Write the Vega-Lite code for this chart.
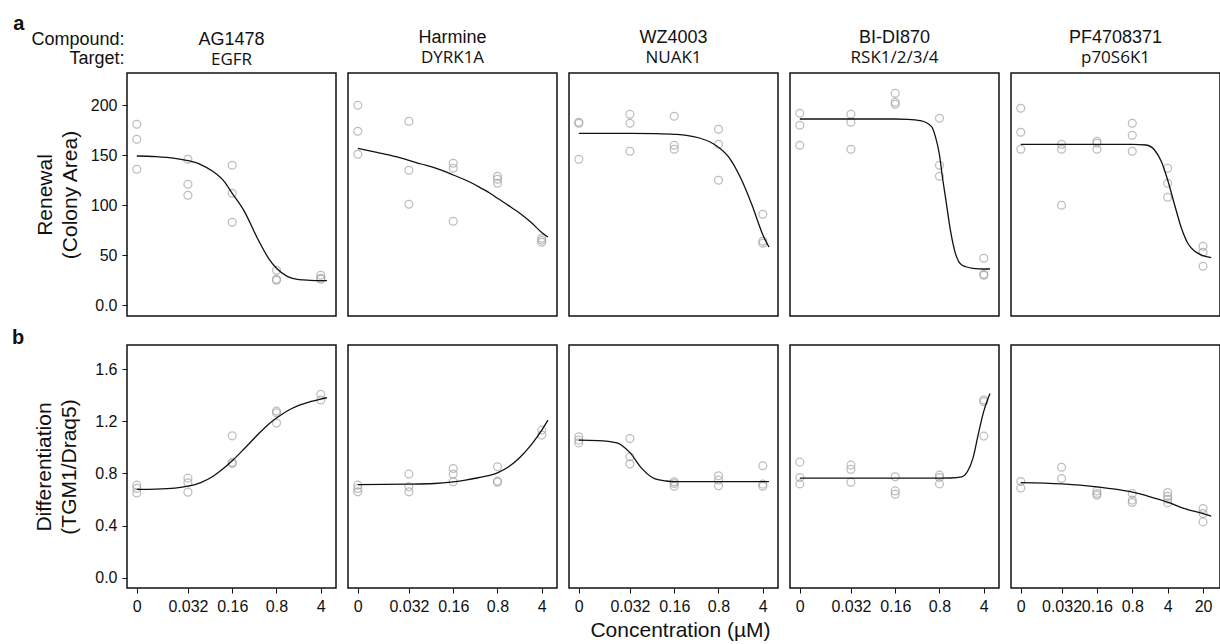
{
  "$schema": "https://vega.github.io/schema/vega-lite/v6.json",
  "background": "white",
  "padding": {"left": 12, "top": 14, "right": 0, "bottom": 0},
  "config": {
    "font": "Liberation Sans",
    "view": {"stroke": "#111111", "strokeWidth": 1.5},
    "point": {"shape": "circle", "filled": false, "color": "#a2a2a2", "size": 62, "strokeWidth": 1.25},
    "line": {"color": "#111111", "strokeWidth": 1.3, "interpolate": "monotone"},
    "axis": {"grid": false, "domain": false, "tickColor": "#111111", "tickSize": 5, "tickWidth": 1, "labelFontSize": 16, "labelColor": "#111111", "labelPadding": 5, "titleFontSize": 21, "titleFontWeight": "normal", "titleColor": "#111111", "labelFlush": false, "labelOverlap": false},
    "title": {"font": "Liberation Sans", "fontSize": 18, "fontWeight": "normal", "color": "#111111", "subtitleFont": "Open Sans", "subtitleFontSize": 17, "subtitleColor": "#111111", "subtitlePadding": 3, "offset": 7},
    "concat": {"spacing": 10}
  },
  "datasets": {
    "points": [
      {"compound": "AG1478", "assay": "renewal", "conc": 0.005, "value": 181},
      {"compound": "AG1478", "assay": "renewal", "conc": 0.005, "value": 166},
      {"compound": "AG1478", "assay": "renewal", "conc": 0.005, "value": 136},
      {"compound": "AG1478", "assay": "renewal", "conc": 0.032, "value": 146},
      {"compound": "AG1478", "assay": "renewal", "conc": 0.032, "value": 121},
      {"compound": "AG1478", "assay": "renewal", "conc": 0.032, "value": 110},
      {"compound": "AG1478", "assay": "renewal", "conc": 0.16, "value": 140},
      {"compound": "AG1478", "assay": "renewal", "conc": 0.16, "value": 112},
      {"compound": "AG1478", "assay": "renewal", "conc": 0.16, "value": 83},
      {"compound": "AG1478", "assay": "renewal", "conc": 0.8, "value": 35},
      {"compound": "AG1478", "assay": "renewal", "conc": 0.8, "value": 26},
      {"compound": "AG1478", "assay": "renewal", "conc": 0.8, "value": 25},
      {"compound": "AG1478", "assay": "renewal", "conc": 4, "value": 30},
      {"compound": "AG1478", "assay": "renewal", "conc": 4, "value": 27},
      {"compound": "AG1478", "assay": "renewal", "conc": 4, "value": 26},
      {"compound": "Harmine", "assay": "renewal", "conc": 0.005, "value": 200},
      {"compound": "Harmine", "assay": "renewal", "conc": 0.005, "value": 174},
      {"compound": "Harmine", "assay": "renewal", "conc": 0.005, "value": 151},
      {"compound": "Harmine", "assay": "renewal", "conc": 0.032, "value": 184},
      {"compound": "Harmine", "assay": "renewal", "conc": 0.032, "value": 135},
      {"compound": "Harmine", "assay": "renewal", "conc": 0.032, "value": 101},
      {"compound": "Harmine", "assay": "renewal", "conc": 0.16, "value": 142},
      {"compound": "Harmine", "assay": "renewal", "conc": 0.16, "value": 137},
      {"compound": "Harmine", "assay": "renewal", "conc": 0.16, "value": 84},
      {"compound": "Harmine", "assay": "renewal", "conc": 0.8, "value": 129},
      {"compound": "Harmine", "assay": "renewal", "conc": 0.8, "value": 126},
      {"compound": "Harmine", "assay": "renewal", "conc": 0.8, "value": 122},
      {"compound": "Harmine", "assay": "renewal", "conc": 4, "value": 67},
      {"compound": "Harmine", "assay": "renewal", "conc": 4, "value": 65},
      {"compound": "Harmine", "assay": "renewal", "conc": 4, "value": 63},
      {"compound": "WZ4003", "assay": "renewal", "conc": 0.005, "value": 183},
      {"compound": "WZ4003", "assay": "renewal", "conc": 0.005, "value": 182},
      {"compound": "WZ4003", "assay": "renewal", "conc": 0.005, "value": 146},
      {"compound": "WZ4003", "assay": "renewal", "conc": 0.032, "value": 191},
      {"compound": "WZ4003", "assay": "renewal", "conc": 0.032, "value": 182},
      {"compound": "WZ4003", "assay": "renewal", "conc": 0.032, "value": 154},
      {"compound": "WZ4003", "assay": "renewal", "conc": 0.16, "value": 189},
      {"compound": "WZ4003", "assay": "renewal", "conc": 0.16, "value": 160},
      {"compound": "WZ4003", "assay": "renewal", "conc": 0.16, "value": 156},
      {"compound": "WZ4003", "assay": "renewal", "conc": 0.8, "value": 176},
      {"compound": "WZ4003", "assay": "renewal", "conc": 0.8, "value": 161},
      {"compound": "WZ4003", "assay": "renewal", "conc": 0.8, "value": 125},
      {"compound": "WZ4003", "assay": "renewal", "conc": 4, "value": 91},
      {"compound": "WZ4003", "assay": "renewal", "conc": 4, "value": 64},
      {"compound": "WZ4003", "assay": "renewal", "conc": 4, "value": 62},
      {"compound": "BI-DI870", "assay": "renewal", "conc": 0.005, "value": 192},
      {"compound": "BI-DI870", "assay": "renewal", "conc": 0.005, "value": 180},
      {"compound": "BI-DI870", "assay": "renewal", "conc": 0.005, "value": 160},
      {"compound": "BI-DI870", "assay": "renewal", "conc": 0.032, "value": 191},
      {"compound": "BI-DI870", "assay": "renewal", "conc": 0.032, "value": 183},
      {"compound": "BI-DI870", "assay": "renewal", "conc": 0.032, "value": 156},
      {"compound": "BI-DI870", "assay": "renewal", "conc": 0.16, "value": 212},
      {"compound": "BI-DI870", "assay": "renewal", "conc": 0.16, "value": 203},
      {"compound": "BI-DI870", "assay": "renewal", "conc": 0.16, "value": 201},
      {"compound": "BI-DI870", "assay": "renewal", "conc": 0.8, "value": 187},
      {"compound": "BI-DI870", "assay": "renewal", "conc": 0.8, "value": 140},
      {"compound": "BI-DI870", "assay": "renewal", "conc": 0.8, "value": 129},
      {"compound": "BI-DI870", "assay": "renewal", "conc": 4, "value": 47},
      {"compound": "BI-DI870", "assay": "renewal", "conc": 4, "value": 31},
      {"compound": "BI-DI870", "assay": "renewal", "conc": 4, "value": 30},
      {"compound": "PF4708371", "assay": "renewal", "conc": 0.005, "value": 197},
      {"compound": "PF4708371", "assay": "renewal", "conc": 0.005, "value": 173},
      {"compound": "PF4708371", "assay": "renewal", "conc": 0.005, "value": 156},
      {"compound": "PF4708371", "assay": "renewal", "conc": 0.032, "value": 161},
      {"compound": "PF4708371", "assay": "renewal", "conc": 0.032, "value": 156},
      {"compound": "PF4708371", "assay": "renewal", "conc": 0.032, "value": 100},
      {"compound": "PF4708371", "assay": "renewal", "conc": 0.16, "value": 164},
      {"compound": "PF4708371", "assay": "renewal", "conc": 0.16, "value": 162},
      {"compound": "PF4708371", "assay": "renewal", "conc": 0.16, "value": 156},
      {"compound": "PF4708371", "assay": "renewal", "conc": 0.8, "value": 182},
      {"compound": "PF4708371", "assay": "renewal", "conc": 0.8, "value": 170},
      {"compound": "PF4708371", "assay": "renewal", "conc": 0.8, "value": 154},
      {"compound": "PF4708371", "assay": "renewal", "conc": 4, "value": 137},
      {"compound": "PF4708371", "assay": "renewal", "conc": 4, "value": 122},
      {"compound": "PF4708371", "assay": "renewal", "conc": 4, "value": 108},
      {"compound": "PF4708371", "assay": "renewal", "conc": 20, "value": 59},
      {"compound": "PF4708371", "assay": "renewal", "conc": 20, "value": 53},
      {"compound": "PF4708371", "assay": "renewal", "conc": 20, "value": 39},
      {"compound": "AG1478", "assay": "differentiation", "conc": 0.005, "value": 0.71},
      {"compound": "AG1478", "assay": "differentiation", "conc": 0.005, "value": 0.685},
      {"compound": "AG1478", "assay": "differentiation", "conc": 0.005, "value": 0.65},
      {"compound": "AG1478", "assay": "differentiation", "conc": 0.032, "value": 0.764},
      {"compound": "AG1478", "assay": "differentiation", "conc": 0.032, "value": 0.728},
      {"compound": "AG1478", "assay": "differentiation", "conc": 0.032, "value": 0.656},
      {"compound": "AG1478", "assay": "differentiation", "conc": 0.16, "value": 1.089},
      {"compound": "AG1478", "assay": "differentiation", "conc": 0.16, "value": 0.885},
      {"compound": "AG1478", "assay": "differentiation", "conc": 0.16, "value": 0.877},
      {"compound": "AG1478", "assay": "differentiation", "conc": 0.8, "value": 1.279},
      {"compound": "AG1478", "assay": "differentiation", "conc": 0.8, "value": 1.266},
      {"compound": "AG1478", "assay": "differentiation", "conc": 0.8, "value": 1.187},
      {"compound": "AG1478", "assay": "differentiation", "conc": 4, "value": 1.408},
      {"compound": "AG1478", "assay": "differentiation", "conc": 4, "value": 1.364},
      {"compound": "Harmine", "assay": "differentiation", "conc": 0.005, "value": 0.71},
      {"compound": "Harmine", "assay": "differentiation", "conc": 0.005, "value": 0.685},
      {"compound": "Harmine", "assay": "differentiation", "conc": 0.005, "value": 0.659},
      {"compound": "Harmine", "assay": "differentiation", "conc": 0.032, "value": 0.795},
      {"compound": "Harmine", "assay": "differentiation", "conc": 0.032, "value": 0.697},
      {"compound": "Harmine", "assay": "differentiation", "conc": 0.032, "value": 0.659},
      {"compound": "Harmine", "assay": "differentiation", "conc": 0.16, "value": 0.838},
      {"compound": "Harmine", "assay": "differentiation", "conc": 0.16, "value": 0.795},
      {"compound": "Harmine", "assay": "differentiation", "conc": 0.16, "value": 0.736},
      {"compound": "Harmine", "assay": "differentiation", "conc": 0.8, "value": 0.851},
      {"compound": "Harmine", "assay": "differentiation", "conc": 0.8, "value": 0.741},
      {"compound": "Harmine", "assay": "differentiation", "conc": 0.8, "value": 0.733},
      {"compound": "Harmine", "assay": "differentiation", "conc": 4, "value": 1.133},
      {"compound": "Harmine", "assay": "differentiation", "conc": 4, "value": 1.095},
      {"compound": "WZ4003", "assay": "differentiation", "conc": 0.005, "value": 1.082},
      {"compound": "WZ4003", "assay": "differentiation", "conc": 0.005, "value": 1.056},
      {"compound": "WZ4003", "assay": "differentiation", "conc": 0.005, "value": 1.035},
      {"compound": "WZ4003", "assay": "differentiation", "conc": 0.032, "value": 1.069},
      {"compound": "WZ4003", "assay": "differentiation", "conc": 0.032, "value": 0.928},
      {"compound": "WZ4003", "assay": "differentiation", "conc": 0.032, "value": 0.872},
      {"compound": "WZ4003", "assay": "differentiation", "conc": 0.16, "value": 0.736},
      {"compound": "WZ4003", "assay": "differentiation", "conc": 0.16, "value": 0.723},
      {"compound": "WZ4003", "assay": "differentiation", "conc": 0.16, "value": 0.702},
      {"compound": "WZ4003", "assay": "differentiation", "conc": 0.8, "value": 0.782},
      {"compound": "WZ4003", "assay": "differentiation", "conc": 0.8, "value": 0.749},
      {"compound": "WZ4003", "assay": "differentiation", "conc": 0.8, "value": 0.705},
      {"compound": "WZ4003", "assay": "differentiation", "conc": 4, "value": 0.859},
      {"compound": "WZ4003", "assay": "differentiation", "conc": 4, "value": 0.718},
      {"compound": "WZ4003", "assay": "differentiation", "conc": 4, "value": 0.702},
      {"compound": "BI-DI870", "assay": "differentiation", "conc": 0.005, "value": 0.887},
      {"compound": "BI-DI870", "assay": "differentiation", "conc": 0.005, "value": 0.769},
      {"compound": "BI-DI870", "assay": "differentiation", "conc": 0.005, "value": 0.72},
      {"compound": "BI-DI870", "assay": "differentiation", "conc": 0.032, "value": 0.864},
      {"compound": "BI-DI870", "assay": "differentiation", "conc": 0.032, "value": 0.831},
      {"compound": "BI-DI870", "assay": "differentiation", "conc": 0.032, "value": 0.733},
      {"compound": "BI-DI870", "assay": "differentiation", "conc": 0.16, "value": 0.774},
      {"compound": "BI-DI870", "assay": "differentiation", "conc": 0.16, "value": 0.666},
      {"compound": "BI-DI870", "assay": "differentiation", "conc": 0.16, "value": 0.641},
      {"compound": "BI-DI870", "assay": "differentiation", "conc": 0.8, "value": 0.787},
      {"compound": "BI-DI870", "assay": "differentiation", "conc": 0.8, "value": 0.769},
      {"compound": "BI-DI870", "assay": "differentiation", "conc": 0.8, "value": 0.72},
      {"compound": "BI-DI870", "assay": "differentiation", "conc": 4, "value": 1.364},
      {"compound": "BI-DI870", "assay": "differentiation", "conc": 4, "value": 1.351},
      {"compound": "BI-DI870", "assay": "differentiation", "conc": 4, "value": 1.087},
      {"compound": "PF4708371", "assay": "differentiation", "conc": 0.005, "value": 0.738},
      {"compound": "PF4708371", "assay": "differentiation", "conc": 0.005, "value": 0.689},
      {"compound": "PF4708371", "assay": "differentiation", "conc": 0.032, "value": 0.848},
      {"compound": "PF4708371", "assay": "differentiation", "conc": 0.032, "value": 0.761},
      {"compound": "PF4708371", "assay": "differentiation", "conc": 0.16, "value": 0.666},
      {"compound": "PF4708371", "assay": "differentiation", "conc": 0.16, "value": 0.646},
      {"compound": "PF4708371", "assay": "differentiation", "conc": 0.16, "value": 0.633},
      {"compound": "PF4708371", "assay": "differentiation", "conc": 0.8, "value": 0.646},
      {"compound": "PF4708371", "assay": "differentiation", "conc": 0.8, "value": 0.595},
      {"compound": "PF4708371", "assay": "differentiation", "conc": 0.8, "value": 0.577},
      {"compound": "PF4708371", "assay": "differentiation", "conc": 4, "value": 0.654},
      {"compound": "PF4708371", "assay": "differentiation", "conc": 4, "value": 0.625},
      {"compound": "PF4708371", "assay": "differentiation", "conc": 4, "value": 0.602},
      {"compound": "PF4708371", "assay": "differentiation", "conc": 4, "value": 0.574},
      {"compound": "PF4708371", "assay": "differentiation", "conc": 20, "value": 0.531},
      {"compound": "PF4708371", "assay": "differentiation", "conc": 20, "value": 0.492},
      {"compound": "PF4708371", "assay": "differentiation", "conc": 20, "value": 0.428}
    ],
    "fits": [
      {"compound": "AG1478", "assay": "renewal", "conc": 0.005, "value": 149.2},
      {"compound": "AG1478", "assay": "renewal", "conc": 0.01, "value": 148.6},
      {"compound": "AG1478", "assay": "renewal", "conc": 0.02, "value": 146.9},
      {"compound": "AG1478", "assay": "renewal", "conc": 0.032, "value": 144.6},
      {"compound": "AG1478", "assay": "renewal", "conc": 0.05, "value": 140.9},
      {"compound": "AG1478", "assay": "renewal", "conc": 0.08, "value": 133.6},
      {"compound": "AG1478", "assay": "renewal", "conc": 0.12, "value": 123.6},
      {"compound": "AG1478", "assay": "renewal", "conc": 0.16, "value": 111.9},
      {"compound": "AG1478", "assay": "renewal", "conc": 0.25, "value": 93.6},
      {"compound": "AG1478", "assay": "renewal", "conc": 0.4, "value": 66.9},
      {"compound": "AG1478", "assay": "renewal", "conc": 0.6, "value": 46.9},
      {"compound": "AG1478", "assay": "renewal", "conc": 0.8, "value": 36.9},
      {"compound": "AG1478", "assay": "renewal", "conc": 1.2, "value": 28.6},
      {"compound": "AG1478", "assay": "renewal", "conc": 1.8, "value": 25.6},
      {"compound": "AG1478", "assay": "renewal", "conc": 2.7, "value": 24.9},
      {"compound": "AG1478", "assay": "renewal", "conc": 4, "value": 24.6},
      {"compound": "AG1478", "assay": "renewal", "conc": 5, "value": 24.6},
      {"compound": "Harmine", "assay": "renewal", "conc": 0.005, "value": 156.9},
      {"compound": "Harmine", "assay": "renewal", "conc": 0.01, "value": 152.9},
      {"compound": "Harmine", "assay": "renewal", "conc": 0.02, "value": 148.6},
      {"compound": "Harmine", "assay": "renewal", "conc": 0.032, "value": 144.9},
      {"compound": "Harmine", "assay": "renewal", "conc": 0.05, "value": 141.2},
      {"compound": "Harmine", "assay": "renewal", "conc": 0.08, "value": 137.6},
      {"compound": "Harmine", "assay": "renewal", "conc": 0.12, "value": 133.6},
      {"compound": "Harmine", "assay": "renewal", "conc": 0.16, "value": 130.2},
      {"compound": "Harmine", "assay": "renewal", "conc": 0.25, "value": 125.2},
      {"compound": "Harmine", "assay": "renewal", "conc": 0.4, "value": 118.6},
      {"compound": "Harmine", "assay": "renewal", "conc": 0.6, "value": 112.2},
      {"compound": "Harmine", "assay": "renewal", "conc": 0.8, "value": 106.9},
      {"compound": "Harmine", "assay": "renewal", "conc": 1.2, "value": 99.6},
      {"compound": "Harmine", "assay": "renewal", "conc": 1.8, "value": 91.9},
      {"compound": "Harmine", "assay": "renewal", "conc": 2.7, "value": 82.9},
      {"compound": "Harmine", "assay": "renewal", "conc": 4, "value": 72.6},
      {"compound": "Harmine", "assay": "renewal", "conc": 5, "value": 68.2},
      {"compound": "WZ4003", "assay": "renewal", "conc": 0.005, "value": 171.9},
      {"compound": "WZ4003", "assay": "renewal", "conc": 0.032, "value": 171.9},
      {"compound": "WZ4003", "assay": "renewal", "conc": 0.08, "value": 171.6},
      {"compound": "WZ4003", "assay": "renewal", "conc": 0.16, "value": 170.9},
      {"compound": "WZ4003", "assay": "renewal", "conc": 0.25, "value": 169.9},
      {"compound": "WZ4003", "assay": "renewal", "conc": 0.4, "value": 167.2},
      {"compound": "WZ4003", "assay": "renewal", "conc": 0.6, "value": 162.9},
      {"compound": "WZ4003", "assay": "renewal", "conc": 0.8, "value": 157.9},
      {"compound": "WZ4003", "assay": "renewal", "conc": 1.2, "value": 146.9},
      {"compound": "WZ4003", "assay": "renewal", "conc": 1.8, "value": 126.9},
      {"compound": "WZ4003", "assay": "renewal", "conc": 2.7, "value": 100.2},
      {"compound": "WZ4003", "assay": "renewal", "conc": 4, "value": 70.5},
      {"compound": "WZ4003", "assay": "renewal", "conc": 5, "value": 58.2},
      {"compound": "BI-DI870", "assay": "renewal", "conc": 0.005, "value": 186.2},
      {"compound": "BI-DI870", "assay": "renewal", "conc": 0.032, "value": 186.2},
      {"compound": "BI-DI870", "assay": "renewal", "conc": 0.16, "value": 186.2},
      {"compound": "BI-DI870", "assay": "renewal", "conc": 0.25, "value": 185.9},
      {"compound": "BI-DI870", "assay": "renewal", "conc": 0.4, "value": 184.6},
      {"compound": "BI-DI870", "assay": "renewal", "conc": 0.6, "value": 178.6},
      {"compound": "BI-DI870", "assay": "renewal", "conc": 0.69, "value": 168.6},
      {"compound": "BI-DI870", "assay": "renewal", "conc": 0.8, "value": 150.2},
      {"compound": "BI-DI870", "assay": "renewal", "conc": 0.88, "value": 130.2},
      {"compound": "BI-DI870", "assay": "renewal", "conc": 1.0, "value": 106.9},
      {"compound": "BI-DI870", "assay": "renewal", "conc": 1.2, "value": 73.6},
      {"compound": "BI-DI870", "assay": "renewal", "conc": 1.4, "value": 53.6},
      {"compound": "BI-DI870", "assay": "renewal", "conc": 1.8, "value": 40.2},
      {"compound": "BI-DI870", "assay": "renewal", "conc": 2.7, "value": 36.9},
      {"compound": "BI-DI870", "assay": "renewal", "conc": 4, "value": 36.2},
      {"compound": "BI-DI870", "assay": "renewal", "conc": 5, "value": 36.2},
      {"compound": "PF4708371", "assay": "renewal", "conc": 0.005, "value": 160.9},
      {"compound": "PF4708371", "assay": "renewal", "conc": 0.032, "value": 160.9},
      {"compound": "PF4708371", "assay": "renewal", "conc": 0.16, "value": 160.9},
      {"compound": "PF4708371", "assay": "renewal", "conc": 0.8, "value": 160.9},
      {"compound": "PF4708371", "assay": "renewal", "conc": 1.5, "value": 160.2},
      {"compound": "PF4708371", "assay": "renewal", "conc": 2.2, "value": 155.2},
      {"compound": "PF4708371", "assay": "renewal", "conc": 3, "value": 143.6},
      {"compound": "PF4708371", "assay": "renewal", "conc": 4, "value": 125.2},
      {"compound": "PF4708371", "assay": "renewal", "conc": 5.5, "value": 100.2},
      {"compound": "PF4708371", "assay": "renewal", "conc": 7.5, "value": 76.9},
      {"compound": "PF4708371", "assay": "renewal", "conc": 10, "value": 61.9},
      {"compound": "PF4708371", "assay": "renewal", "conc": 14, "value": 53.6},
      {"compound": "PF4708371", "assay": "renewal", "conc": 20, "value": 49.6},
      {"compound": "PF4708371", "assay": "renewal", "conc": 29, "value": 47.6},
      {"compound": "AG1478", "assay": "differentiation", "conc": 0.005, "value": 0.677},
      {"compound": "AG1478", "assay": "differentiation", "conc": 0.01, "value": 0.679},
      {"compound": "AG1478", "assay": "differentiation", "conc": 0.02, "value": 0.687},
      {"compound": "AG1478", "assay": "differentiation", "conc": 0.032, "value": 0.702},
      {"compound": "AG1478", "assay": "differentiation", "conc": 0.05, "value": 0.728},
      {"compound": "AG1478", "assay": "differentiation", "conc": 0.08, "value": 0.779},
      {"compound": "AG1478", "assay": "differentiation", "conc": 0.12, "value": 0.843},
      {"compound": "AG1478", "assay": "differentiation", "conc": 0.16, "value": 0.897},
      {"compound": "AG1478", "assay": "differentiation", "conc": 0.25, "value": 0.992},
      {"compound": "AG1478", "assay": "differentiation", "conc": 0.4, "value": 1.095},
      {"compound": "AG1478", "assay": "differentiation", "conc": 0.6, "value": 1.179},
      {"compound": "AG1478", "assay": "differentiation", "conc": 0.8, "value": 1.226},
      {"compound": "AG1478", "assay": "differentiation", "conc": 1.2, "value": 1.282},
      {"compound": "AG1478", "assay": "differentiation", "conc": 1.8, "value": 1.323},
      {"compound": "AG1478", "assay": "differentiation", "conc": 2.7, "value": 1.351},
      {"compound": "AG1478", "assay": "differentiation", "conc": 4, "value": 1.372},
      {"compound": "AG1478", "assay": "differentiation", "conc": 5, "value": 1.382},
      {"compound": "Harmine", "assay": "differentiation", "conc": 0.005, "value": 0.715},
      {"compound": "Harmine", "assay": "differentiation", "conc": 0.032, "value": 0.718},
      {"compound": "Harmine", "assay": "differentiation", "conc": 0.08, "value": 0.723},
      {"compound": "Harmine", "assay": "differentiation", "conc": 0.16, "value": 0.736},
      {"compound": "Harmine", "assay": "differentiation", "conc": 0.25, "value": 0.749},
      {"compound": "Harmine", "assay": "differentiation", "conc": 0.4, "value": 0.767},
      {"compound": "Harmine", "assay": "differentiation", "conc": 0.6, "value": 0.785},
      {"compound": "Harmine", "assay": "differentiation", "conc": 0.8, "value": 0.805},
      {"compound": "Harmine", "assay": "differentiation", "conc": 1.2, "value": 0.851},
      {"compound": "Harmine", "assay": "differentiation", "conc": 1.8, "value": 0.923},
      {"compound": "Harmine", "assay": "differentiation", "conc": 2.7, "value": 1.018},
      {"compound": "Harmine", "assay": "differentiation", "conc": 4, "value": 1.133},
      {"compound": "Harmine", "assay": "differentiation", "conc": 5, "value": 1.21},
      {"compound": "WZ4003", "assay": "differentiation", "conc": 0.005, "value": 1.056},
      {"compound": "WZ4003", "assay": "differentiation", "conc": 0.01, "value": 1.053},
      {"compound": "WZ4003", "assay": "differentiation", "conc": 0.02, "value": 1.035},
      {"compound": "WZ4003", "assay": "differentiation", "conc": 0.032, "value": 0.96},
      {"compound": "WZ4003", "assay": "differentiation", "conc": 0.05, "value": 0.835},
      {"compound": "WZ4003", "assay": "differentiation", "conc": 0.08, "value": 0.758},
      {"compound": "WZ4003", "assay": "differentiation", "conc": 0.12, "value": 0.742},
      {"compound": "WZ4003", "assay": "differentiation", "conc": 0.16, "value": 0.738},
      {"compound": "WZ4003", "assay": "differentiation", "conc": 0.8, "value": 0.738},
      {"compound": "WZ4003", "assay": "differentiation", "conc": 4, "value": 0.738},
      {"compound": "WZ4003", "assay": "differentiation", "conc": 5, "value": 0.738},
      {"compound": "BI-DI870", "assay": "differentiation", "conc": 0.005, "value": 0.764},
      {"compound": "BI-DI870", "assay": "differentiation", "conc": 0.16, "value": 0.764},
      {"compound": "BI-DI870", "assay": "differentiation", "conc": 0.8, "value": 0.764},
      {"compound": "BI-DI870", "assay": "differentiation", "conc": 1.2, "value": 0.765},
      {"compound": "BI-DI870", "assay": "differentiation", "conc": 1.8, "value": 0.774},
      {"compound": "BI-DI870", "assay": "differentiation", "conc": 2.2, "value": 0.813},
      {"compound": "BI-DI870", "assay": "differentiation", "conc": 2.7, "value": 0.918},
      {"compound": "BI-DI870", "assay": "differentiation", "conc": 3.3, "value": 1.11},
      {"compound": "BI-DI870", "assay": "differentiation", "conc": 4, "value": 1.279},
      {"compound": "BI-DI870", "assay": "differentiation", "conc": 5, "value": 1.415},
      {"compound": "PF4708371", "assay": "differentiation", "conc": 0.005, "value": 0.73},
      {"compound": "PF4708371", "assay": "differentiation", "conc": 0.032, "value": 0.72},
      {"compound": "PF4708371", "assay": "differentiation", "conc": 0.16, "value": 0.697},
      {"compound": "PF4708371", "assay": "differentiation", "conc": 0.4, "value": 0.677},
      {"compound": "PF4708371", "assay": "differentiation", "conc": 0.8, "value": 0.656},
      {"compound": "PF4708371", "assay": "differentiation", "conc": 1.8, "value": 0.621},
      {"compound": "PF4708371", "assay": "differentiation", "conc": 4, "value": 0.58},
      {"compound": "PF4708371", "assay": "differentiation", "conc": 9, "value": 0.528},
      {"compound": "PF4708371", "assay": "differentiation", "conc": 20, "value": 0.492},
      {"compound": "PF4708371", "assay": "differentiation", "conc": 29, "value": 0.472}
    ]
  },
  "spacing": 11,
  "vconcat": [
    {
      "title": {"text": "a", "fontSize": 20, "fontWeight": "bold", "anchor": "start", "frame": "bounds", "dx": -17, "dy": 3, "offset": -3},
      "spacing": 10,
      "hconcat": [
        {
          "width": 209, "height": 243,
          "title": {"text": "AG1478", "subtitle": "EGFR", "dy": 45},
          "layer": [
            {"data": {"name": "points"}, "transform": [{"filter": "datum.assay === 'renewal' && datum.compound === 'AG1478'"}], "mark": "point",
             "encoding": {
               "x": {"field": "conc", "type": "quantitative", "scale": {"type": "log", "domain": [0.0035, 6.95], "nice": false},
                     "axis": {"orient": "top", "labels": false, "ticks": false, "domain": false, "title": ["Compound:", "Target:"], "titleFontSize": 18, "titleAlign": "right", "titleX": -3, "titleY": -29, "titleBaseline": "alphabetic", "titleLineHeight": 19.5, "titleAngle": 0}},
               "y": {"field": "value", "type": "quantitative", "scale": {"domain": [-10.8, 232.2], "nice": false, "zero": false},
                     "axis": {"values": [0, 50, 100, 150, 200], "labelExpr": "datum.value === 0 ? '0.0' : datum.label", "title": ["Renewal", "(Colony Area)"], "titleLineHeight": 25, "titlePadding": 10}}
             }},
            {"data": {"name": "fits"}, "transform": [{"filter": "datum.assay === 'renewal' && datum.compound === 'AG1478'"}], "mark": "line",
             "encoding": {"x": {"field": "conc", "type": "quantitative"}, "y": {"field": "value", "type": "quantitative"}}}
          ]
        },
        {
          "width": 209, "height": 243,
          "title": {"text": "Harmine", "subtitle": "DYRK1A"},
          "layer": [
            {"data": {"name": "points"}, "transform": [{"filter": "datum.assay === 'renewal' && datum.compound === 'Harmine'"}], "mark": "point",
             "encoding": {
               "x": {"field": "conc", "type": "quantitative", "scale": {"type": "log", "domain": [0.0035, 6.95], "nice": false}, "axis": null},
               "y": {"field": "value", "type": "quantitative", "scale": {"domain": [-10.8, 232.2], "nice": false, "zero": false}, "axis": null}
             }},
            {"data": {"name": "fits"}, "transform": [{"filter": "datum.assay === 'renewal' && datum.compound === 'Harmine'"}], "mark": "line",
             "encoding": {"x": {"field": "conc", "type": "quantitative"}, "y": {"field": "value", "type": "quantitative"}}}
          ]
        },
        {
          "width": 209, "height": 243,
          "title": {"text": "WZ4003", "subtitle": "NUAK1"},
          "layer": [
            {"data": {"name": "points"}, "transform": [{"filter": "datum.assay === 'renewal' && datum.compound === 'WZ4003'"}], "mark": "point",
             "encoding": {
               "x": {"field": "conc", "type": "quantitative", "scale": {"type": "log", "domain": [0.0035, 6.95], "nice": false}, "axis": null},
               "y": {"field": "value", "type": "quantitative", "scale": {"domain": [-10.8, 232.2], "nice": false, "zero": false}, "axis": null}
             }},
            {"data": {"name": "fits"}, "transform": [{"filter": "datum.assay === 'renewal' && datum.compound === 'WZ4003'"}], "mark": "line",
             "encoding": {"x": {"field": "conc", "type": "quantitative"}, "y": {"field": "value", "type": "quantitative"}}}
          ]
        },
        {
          "width": 209, "height": 243,
          "title": {"text": "BI-DI870", "subtitle": "RSK1/2/3/4"},
          "layer": [
            {"data": {"name": "points"}, "transform": [{"filter": "datum.assay === 'renewal' && datum.compound === 'BI-DI870'"}], "mark": "point",
             "encoding": {
               "x": {"field": "conc", "type": "quantitative", "scale": {"type": "log", "domain": [0.0035, 6.95], "nice": false}, "axis": null},
               "y": {"field": "value", "type": "quantitative", "scale": {"domain": [-10.8, 232.2], "nice": false, "zero": false}, "axis": null}
             }},
            {"data": {"name": "fits"}, "transform": [{"filter": "datum.assay === 'renewal' && datum.compound === 'BI-DI870'"}], "mark": "line",
             "encoding": {"x": {"field": "conc", "type": "quantitative"}, "y": {"field": "value", "type": "quantitative"}}}
          ]
        },
        {
          "width": 209, "height": 243,
          "title": {"text": "PF4708371", "subtitle": "p70S6K1"},
          "layer": [
            {"data": {"name": "points"}, "transform": [{"filter": "datum.assay === 'renewal' && datum.compound === 'PF4708371'"}], "mark": "point",
             "encoding": {
               "x": {"field": "conc", "type": "quantitative", "scale": {"type": "log", "domain": [0.00321, 43.3], "nice": false}, "axis": null},
               "y": {"field": "value", "type": "quantitative", "scale": {"domain": [-10.8, 232.2], "nice": false, "zero": false}, "axis": null}
             }},
            {"data": {"name": "fits"}, "transform": [{"filter": "datum.assay === 'renewal' && datum.compound === 'PF4708371'"}], "mark": "line",
             "encoding": {"x": {"field": "conc", "type": "quantitative"}, "y": {"field": "value", "type": "quantitative"}}}
          ]
        }
      ]
    },
    {
      "title": {"text": "b", "fontSize": 20, "fontWeight": "bold", "anchor": "start", "frame": "bounds", "dx": -21, "offset": -4},
      "spacing": 10,
      "hconcat": [
        {
          "width": 209, "height": 243,
          "layer": [
            {"data": {"name": "points"}, "transform": [{"filter": "datum.assay === 'differentiation' && datum.compound === 'AG1478'"}], "mark": "point",
             "encoding": {
               "x": {"field": "conc", "type": "quantitative", "scale": {"type": "log", "domain": [0.0035, 6.95], "nice": false},
                     "axis": {"values": [0.005, 0.032, 0.16, 0.8, 4], "labelExpr": "datum.value < 0.01 ? '0' : format(datum.value, '~g')", "title": null}},
               "y": {"field": "value", "type": "quantitative", "scale": {"domain": [-0.08, 1.787], "nice": false, "zero": false},
                     "axis": {"values": [0, 0.4, 0.8, 1.2, 1.6], "format": ".1f", "title": ["Differentiation", "(TGM1/Draq5)"], "titleLineHeight": 25, "titlePadding": 15}}
             }},
            {"data": {"name": "fits"}, "transform": [{"filter": "datum.assay === 'differentiation' && datum.compound === 'AG1478'"}], "mark": "line",
             "encoding": {"x": {"field": "conc", "type": "quantitative"}, "y": {"field": "value", "type": "quantitative"}}}
          ]
        },
        {
          "width": 209, "height": 243,
          "layer": [
            {"data": {"name": "points"}, "transform": [{"filter": "datum.assay === 'differentiation' && datum.compound === 'Harmine'"}], "mark": "point",
             "encoding": {
               "x": {"field": "conc", "type": "quantitative", "scale": {"type": "log", "domain": [0.0035, 6.95], "nice": false},
                     "axis": {"values": [0.005, 0.032, 0.16, 0.8, 4], "labelExpr": "datum.value < 0.01 ? '0' : format(datum.value, '~g')", "title": null}},
               "y": {"field": "value", "type": "quantitative", "scale": {"domain": [-0.08, 1.787], "nice": false, "zero": false}, "axis": null}
             }},
            {"data": {"name": "fits"}, "transform": [{"filter": "datum.assay === 'differentiation' && datum.compound === 'Harmine'"}], "mark": "line",
             "encoding": {"x": {"field": "conc", "type": "quantitative"}, "y": {"field": "value", "type": "quantitative"}}}
          ]
        },
        {
          "width": 209, "height": 243,
          "layer": [
            {"data": {"name": "points"}, "transform": [{"filter": "datum.assay === 'differentiation' && datum.compound === 'WZ4003'"}], "mark": "point",
             "encoding": {
               "x": {"field": "conc", "type": "quantitative", "scale": {"type": "log", "domain": [0.0035, 6.95], "nice": false},
                     "axis": {"values": [0.005, 0.032, 0.16, 0.8, 4], "labelExpr": "datum.value < 0.01 ? '0' : format(datum.value, '~g')", "title": "Concentration (µM)", "titleX": 111, "titlePadding": 5}},
               "y": {"field": "value", "type": "quantitative", "scale": {"domain": [-0.08, 1.787], "nice": false, "zero": false}, "axis": null}
             }},
            {"data": {"name": "fits"}, "transform": [{"filter": "datum.assay === 'differentiation' && datum.compound === 'WZ4003'"}], "mark": "line",
             "encoding": {"x": {"field": "conc", "type": "quantitative"}, "y": {"field": "value", "type": "quantitative"}}}
          ]
        },
        {
          "width": 209, "height": 243,
          "layer": [
            {"data": {"name": "points"}, "transform": [{"filter": "datum.assay === 'differentiation' && datum.compound === 'BI-DI870'"}], "mark": "point",
             "encoding": {
               "x": {"field": "conc", "type": "quantitative", "scale": {"type": "log", "domain": [0.0035, 6.95], "nice": false},
                     "axis": {"values": [0.005, 0.032, 0.16, 0.8, 4], "labelExpr": "datum.value < 0.01 ? '0' : format(datum.value, '~g')", "title": null}},
               "y": {"field": "value", "type": "quantitative", "scale": {"domain": [-0.08, 1.787], "nice": false, "zero": false}, "axis": null}
             }},
            {"data": {"name": "fits"}, "transform": [{"filter": "datum.assay === 'differentiation' && datum.compound === 'BI-DI870'"}], "mark": "line",
             "encoding": {"x": {"field": "conc", "type": "quantitative"}, "y": {"field": "value", "type": "quantitative"}}}
          ]
        },
        {
          "width": 209, "height": 243,
          "layer": [
            {"data": {"name": "points"}, "transform": [{"filter": "datum.assay === 'differentiation' && datum.compound === 'PF4708371'"}], "mark": "point",
             "encoding": {
               "x": {"field": "conc", "type": "quantitative", "scale": {"type": "log", "domain": [0.00321, 43.3], "nice": false},
                     "axis": {"values": [0.005, 0.032, 0.16, 0.8, 4, 20], "labelExpr": "datum.value < 0.01 ? '0' : format(datum.value, '~g')", "title": null}},
               "y": {"field": "value", "type": "quantitative", "scale": {"domain": [-0.08, 1.787], "nice": false, "zero": false}, "axis": null}
             }},
            {"data": {"name": "fits"}, "transform": [{"filter": "datum.assay === 'differentiation' && datum.compound === 'PF4708371'"}], "mark": "line",
             "encoding": {"x": {"field": "conc", "type": "quantitative"}, "y": {"field": "value", "type": "quantitative"}}}
          ]
        }
      ]
    }
  ]
}
